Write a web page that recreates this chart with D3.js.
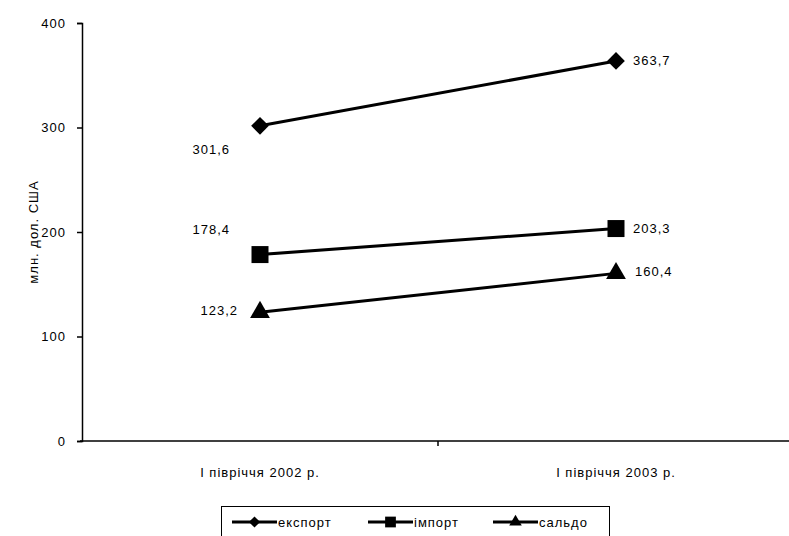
<!DOCTYPE html>
<html><head><meta charset="utf-8">
<script src="https://cdn.jsdelivr.net/npm/d3@7/dist/d3.min.js"></script>
<style>
html,body{margin:0;padding:0;background:#fff;}
svg text{font-family:"Liberation Sans",Arial,sans-serif;fill:#000;letter-spacing:1px;}
</style></head>
<body><svg id="c" width="789" height="536"></svg>
<script>
const categories = ["І півріччя 2002 р.", "І півріччя 2003 р."];
const seriesNames = ["експорт", "імпорт", "сальдо"];
const exportValues = [301.6, 363.7];
const importValues = [178.4, 203.3];
const saldoValues = [123.2, 160.4];
const yTicks = [0, 100, 200, 300, 400];
const yTitle = "млн. дол. США";

const FS = 13;
const series = [
  {name: seriesNames[0], values: exportValues, symbol: d3.symbolDiamond2, size: 200, labelPos: ["leftBelow", "right"]},
  {name: seriesNames[1], values: importValues, symbol: d3.symbolSquare, size: 289, labelPos: ["leftAbove", "right"]},
  {name: seriesNames[2], values: saldoValues, symbol: d3.symbolTriangle, size: 170, labelPos: ["left", "rightAbove"]}
];

const svg = d3.select("#c");
const x = d3.scalePoint().domain(categories).range([82, 794]).padding(0.5);
const y = d3.scaleLinear().domain([0, 400]).range([441, 23]);
const fmt = v => String(v).replace(".", ",");

// axes
const yAxis = svg.append("g").attr("transform", "translate(82,0)")
  .call(d3.axisLeft(y).tickValues(yTicks).tickSize(5).tickPadding(11));
yAxis.select(".domain").attr("stroke", "#000").attr("stroke-width", 1.5);
yAxis.selectAll(".tick line").attr("stroke-width", 1.5);
yAxis.selectAll("text").attr("font-size", FS).attr("font-family", null);

svg.append("line").attr("x1", 80).attr("x2", 789).attr("y1", y(0)).attr("y2", y(0))
  .attr("stroke", "#000").attr("stroke-width", 1.5);
const bw = x.step();
svg.append("line").attr("x1", x(categories[0]) + bw/2).attr("x2", x(categories[0]) + bw/2)
  .attr("y1", y(0)).attr("y2", y(0) + 5).attr("stroke", "#000").attr("stroke-width", 1.5);

svg.selectAll("text.cat").data(categories).enter().append("text")
  .attr("class", "cat").attr("x", d => x(d)).attr("y", 477)
  .attr("text-anchor", "middle").attr("font-size", FS).text(d => d);

svg.append("text").attr("transform", "translate(38,232) rotate(-90)")
  .attr("text-anchor", "middle").attr("font-size", FS).text(yTitle);

// lines
const line = d3.line().x((d, i) => x(categories[i])).y(d => y(d));
series.forEach(s => {
  svg.append("path").attr("d", line(s.values)).attr("fill", "none")
    .attr("stroke", "#000").attr("stroke-width", 3);
  svg.selectAll(null).data(s.values).enter().append("path")
    .attr("d", d3.symbol().type(s.symbol).size(s.size))
    .attr("transform", (d, i) => `translate(${x(categories[i])},${y(d)})`)
    .attr("fill", "#000");
  s.values.forEach((v, i) => {
    const px = x(categories[i]), py = y(v);
    const pos = s.labelPos[i];
    let dx = 0, dy = 0, anchor = "start";
    if (pos === "right") { dx = 17; dy = 0; }
    if (pos === "rightAbove") { dx = 19; dy = -2; }
    if (pos === "leftBelow") { dx = -30; dy = 24; anchor = "end"; }
    if (pos === "leftAbove") { dx = -30; dy = -25; anchor = "end"; }
    if (pos === "left") { dx = -22; dy = -2; anchor = "end"; }
    svg.append("text").attr("x", px + dx).attr("y", py + dy).attr("dy", "0.35em")
      .attr("text-anchor", anchor).attr("font-size", FS).text(fmt(v));
  });
});

// legend
const lg = svg.append("g");
lg.append("rect").attr("x", 221.5).attr("y", 506.5).attr("width", 388).attr("height", 40)
  .attr("fill", "#fff").attr("stroke", "#000").attr("stroke-width", 1);
const legX = [232, 368, 493];
series.forEach((s, i) => {
  const g = lg.append("g").attr("transform", `translate(${legX[i]},522)`);
  g.append("line").attr("x1", 0).attr("x2", 45).attr("stroke", "#000").attr("stroke-width", 3);
  g.append("path").attr("d", d3.symbol().type(s.symbol).size(s.size * 0.4))
    .attr("transform", "translate(22.5,0)").attr("fill", "#000");
  g.append("text").attr("x", 46).attr("dy", "0.35em").attr("font-size", FS).text(s.name);
});
</script></body></html>
